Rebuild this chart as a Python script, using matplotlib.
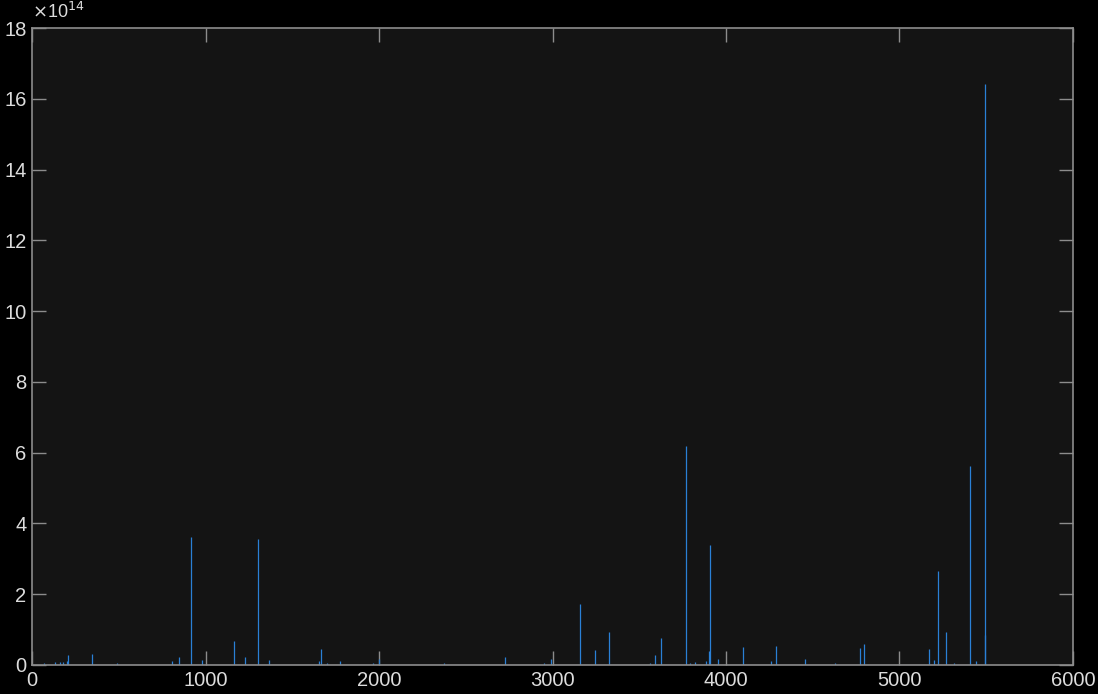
import matplotlib
matplotlib.use("Agg")
import matplotlib.pyplot as plt
import numpy as np

# positions of the spikes (sample index) and their heights in units of 1e14
spike_x = [68, 135, 159, 180, 204, 210, 343, 491, 806, 845, 914, 981,
           1162, 1229, 1300, 1365, 1656, 1668, 1703, 1773, 1963, 2000,
           2374, 2726, 2950, 2991, 3156, 3245, 3326, 3561, 3589, 3625,
           3769, 3795, 3820, 3886, 3901, 3907, 3955, 4099, 4259, 4287,
           4457, 4628, 4770, 4795, 5169, 5199, 5221, 5268, 5312, 5409,
           5441, 5490, 5494]
spike_y = [0.05, 0.08, 0.08, 0.08, 0.10, 0.27, 0.30, 0.05, 0.10, 0.22, 3.62, 0.13,
           0.67, 0.22, 3.57, 0.13, 0.10, 0.44, 0.05, 0.10, 0.05, 0.16,
           0.07, 0.22, 0.05, 0.16, 1.71, 0.41, 0.92, 0.05, 0.27, 0.76,
           6.19, 0.05, 0.08, 0.10, 0.39, 3.40, 0.16, 0.50, 0.10, 0.53,
           0.16, 0.07, 0.47, 0.58, 0.44, 0.13, 2.66, 0.92, 0.05, 5.63,
           0.10, 16.42, 0.84]

x_ticks = [0, 1000, 2000, 3000, 4000, 5000, 6000]
y_ticks = [0, 2, 4, 6, 8, 10, 12, 14, 16, 18]

line_color = '#2a80d6'
axis_color = '#8c8c8c'
text_color = '#dcdcdc'

plt.rcParams['font.family'] = ['Liberation Sans', 'DejaVu Sans']

fig = plt.figure(figsize=(10.98, 6.94), dpi=100, facecolor='black')
ax = fig.add_axes([32 / 1098, 29 / 694, 1041 / 1098, 637 / 694])
ax.set_facecolor('#141414')

# baseline of the signal (mostly zeros) plus the spikes
ax.plot([1, 5500], [0, 0], color=line_color, linewidth=0.8)
ax.vlines(spike_x, 0, spike_y, color=line_color, linewidth=0.9)

ax.set_xlim(0, 6000)
ax.set_ylim(0, 18)
ax.set_xticks(x_ticks)
ax.set_yticks(y_ticks)

for s in ax.spines.values():
    s.set_color(axis_color)
    s.set_linewidth(1.2)

ax.tick_params(direction='in', length=10, width=1, color=axis_color,
               labelcolor=text_color, labelsize=14.5,
               top=True, right=True, pad=4)

fig.text(32 / 1098, 1 - 12 / 694, r'$\times$10$^{14}$', color=text_color,
         fontsize=13, ha='left', va='center')

fig.savefig('out.png', dpi=100, facecolor='black')
